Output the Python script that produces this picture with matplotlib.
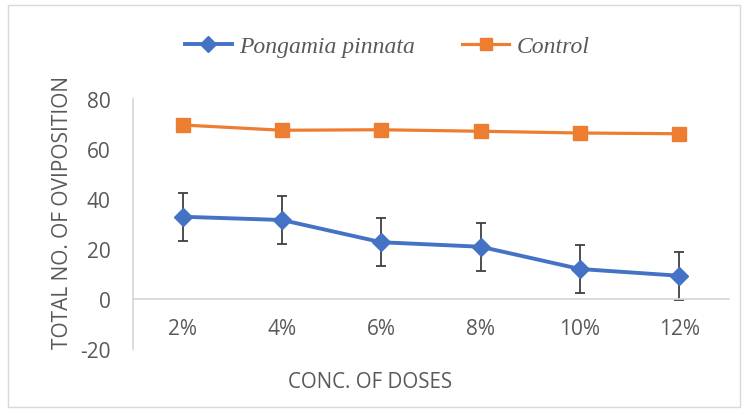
import matplotlib
matplotlib.use('Agg')
import matplotlib.pyplot as plt
from matplotlib.patches import Rectangle

# data
doses = ['2%', '4%', '6%', '8%', '10%', '12%']
pongamia = [32.9, 31.6, 22.7, 20.9, 12.0, 9.3]
pongamia_err = [9.6, 9.6, 9.6, 9.6, 9.6, 9.6]
control = [69.6, 67.5, 67.7, 67.1, 66.4, 66.1]

blue = '#4472C4'
orange = '#ED7D31'
grey_txt = '#595959'

plt.rcParams['font.family'] = ['Open Sans', 'DejaVu Sans']
plt.rcParams['axes.unicode_minus'] = False

fig = plt.figure(figsize=(7.48, 4.14), dpi=100)
ax = fig.add_axes([133 / 748, 1 - 350 / 414, 596 / 748, 250 / 414])

x = list(range(len(doses)))
ax.errorbar(x, pongamia, yerr=pongamia_err, fmt='none',
            ecolor='#404040', elinewidth=1.3, capsize=3.5, capthick=1.3, zorder=2)
l1, = ax.plot(x, pongamia, color=blue, lw=2.8, marker='D', ms=9,
              label='Pongamia pinnata', zorder=3)
l2, = ax.plot(x, control, color=orange, lw=2.3, marker='s', ms=10, label='Control', zorder=3)

ax.set_xlim(-0.5, len(doses) - 0.5)
ax.set_ylim(-20, 80)
ax.set_yticks([-20, 0, 20, 40, 60, 80])
ax.set_xticks(x)
ax.set_xticklabels(doses)

for s in ['top', 'right']:
    ax.spines[s].set_visible(False)
ax.spines['bottom'].set_position(('data', 0))
ax.spines['bottom'].set_color('#d9d9d9')
ax.spines['left'].set_color('#d9d9d9')
ax.spines['bottom'].set_linewidth(1.3)
ax.spines['left'].set_linewidth(1.3)
ax.tick_params(axis='both', length=0, labelsize=15, labelcolor=grey_txt)
ax.tick_params(axis='x', pad=14)
ax.tick_params(axis='y', pad=16)

fig.text(370 / 748, 1 - 383 / 414, 'CONC. OF DOSES', ha='center', va='center',
         fontsize=14.8, color=grey_txt)
fig.text(63 / 748, 1 - 213 / 414, 'TOTAL NO. OF OVIPOSITION', ha='center', va='center',
         rotation=90, fontsize=15, color=grey_txt)

leg = fig.legend(handles=[l1, l2], loc='center', bbox_to_anchor=(387 / 748, 1 - 47 / 414),
                 ncol=2, frameon=False, handlelength=2.0, handletextpad=0.3,
                 columnspacing=2.0,
                 prop={'family': 'Liberation Serif', 'style': 'italic', 'size': 17})
for t in leg.get_texts():
    t.set_color(grey_txt)
for h in leg.legend_handles:
    h.set_markersize(8)

fig.patches.append(Rectangle((8 / 748, 6 / 414), 732 / 748, 402 / 414, transform=fig.transFigure,
                             fill=False, edgecolor='#d9d9d9', lw=1))

fig.savefig('out.png', dpi=100)
